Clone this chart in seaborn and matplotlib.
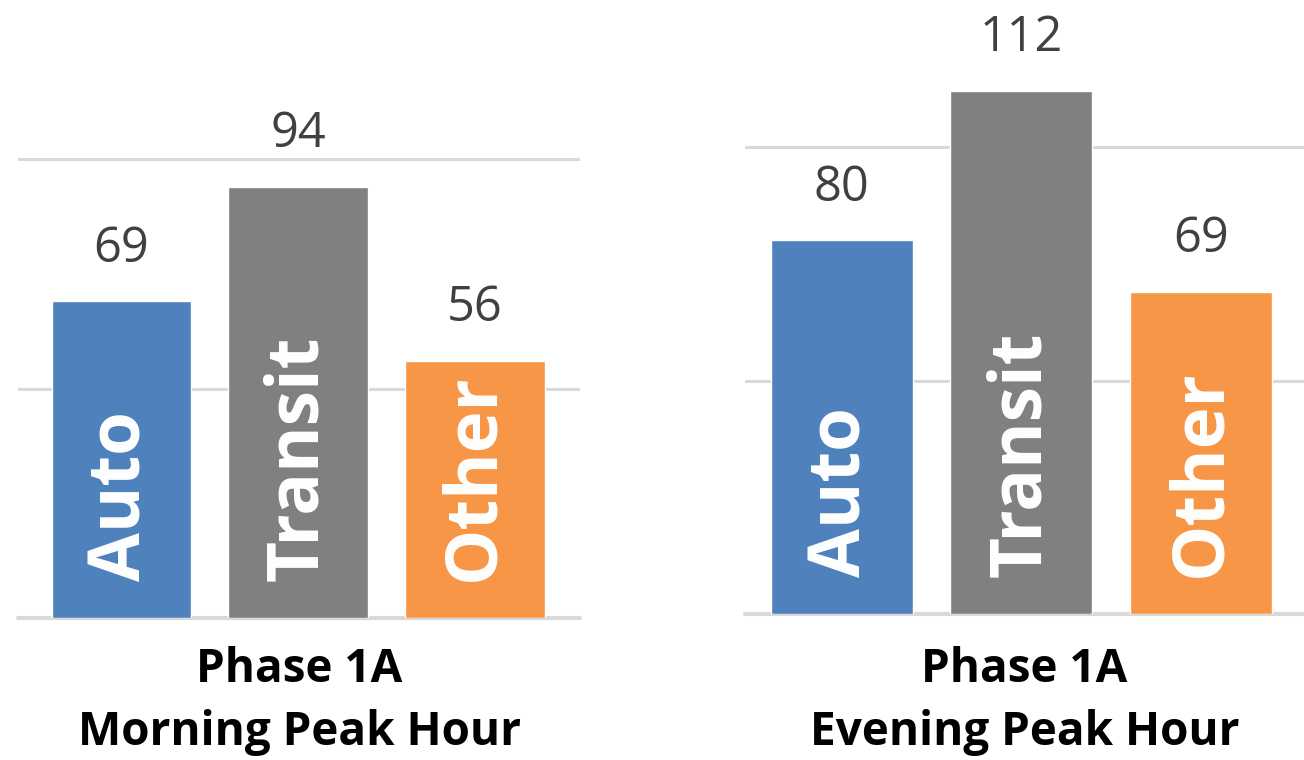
import matplotlib
matplotlib.use("Agg")
import matplotlib.pyplot as plt
import pandas as pd
import seaborn as sns

# values
categories = ["Auto", "Transit", "Other"]
morning = [69, 94, 56]
evening = [80, 112, 69]
titles = ["Morning Peak Hour", "Evening Peak Hour"]
phase = "Phase 1A"

colors = ["#4F81BD", "#808080", "#F79646"]
grid_color = "#D9D9D9"

sns.set_theme(style="white")
plt.rcParams['font.family'] = ['Open Sans', 'DejaVu Sans']

W, H = 1304, 760
fig = plt.figure(figsize=(W / 100, H / 100), dpi=100)


def px_rect(x0, y0, x1, y1):
    # pixel box (top-left origin) -> figure fraction
    return [x0 / W, 1 - y1 / H, (x1 - x0) / W, (y1 - y0) / H]


# axes boxes in pixels and the vertical scale (px per unit) seen in the picture
panels = [
    dict(vals=morning, title=titles[0], box=(18, 0, 580, 618), scale=4.59,
         xlim=(-0.585, 2.595)),
    dict(vals=evening, title=titles[1], box=(745, 0, 1304, 614), scale=4.67,
         xlim=(-0.537, 2.573)),
]

for p in panels:
    ax = fig.add_axes(px_rect(*p["box"]))
    df = pd.DataFrame({"mode": categories, "trips": p["vals"]})
    sns.barplot(data=df, x="mode", y="trips", hue="mode", palette=colors,
                order=categories, hue_order=categories, width=0.79,
                saturation=1, legend=False, ax=ax, zorder=3)

    height_px = p["box"][3] - p["box"][1]
    ax.set_ylim(0, height_px / p["scale"])
    ax.set_xlim(*p["xlim"])
    ax.set_yticks([0, 50, 100])
    ax.yaxis.grid(True, color=grid_color, lw=2.2, zorder=0)
    ax.set_axisbelow(True)
    ax.axhline(0, color=grid_color, lw=3, clip_on=False, zorder=1)
    ax.set_xticks([])
    ax.set_yticklabels([])
    ax.tick_params(left=False, bottom=False)
    ax.set_xlabel("")
    ax.set_ylabel("")
    sns.despine(ax=ax, left=True, bottom=True)

    # value labels above bars
    for bar in ax.patches:
        xc = bar.get_x() + bar.get_width() / 2
        ax.annotate(f"{bar.get_height():.0f}", (xc, bar.get_height()),
                    xytext=(0, 20), textcoords="offset points",
                    ha="center", va="bottom", fontsize=35, color="#404040")

    # white category names inside bars
    for i, name in enumerate(categories):
        ax.text(i, 8, name, rotation=90, ha="center", va="bottom",
                color="white", fontsize=51, fontweight="bold", zorder=4)

    # two-line caption below the panel
    cx = (p["box"][0] + p["box"][2]) / 2 / W
    fig.text(cx, 1 - 670 / H, phase, ha="center", va="center",
             fontsize=33, fontweight="bold", color="black")
    fig.text(cx, 1 - 733 / H, p["title"], ha="center", va="center",
             fontsize=33, fontweight="bold", color="black")

fig.savefig("out.png", dpi=100, facecolor="white")
